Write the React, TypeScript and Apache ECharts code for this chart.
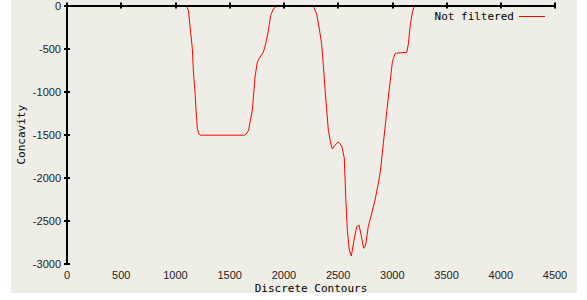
import React, { useEffect, useRef } from "react";
import * as echarts from "echarts";

const seriesName = "Not filtered";
const xTitle = "Discrete Contours";
const yTitle = "Concavity";

const contourX = [
  0, 1100, 1120, 1140, 1156, 1165, 1180, 1190, 1202, 1215, 1230, 1640, 1660, 1675, 1694, 1709,
  1734, 1755, 1780, 1811, 1832, 1857, 1878, 1903, 1934, 1950, 2250, 2275, 2302, 2324, 2348,
  2364, 2379, 2395, 2410, 2432, 2447, 2471, 2502, 2533, 2557, 2570, 2585, 2603, 2622, 2647,
  2671, 2693, 2710, 2735, 2754, 2778, 2810, 2840, 2871, 2890, 2917, 2950, 2979, 3000, 3009,
  3025, 3040, 3133, 3148, 3163, 3185, 3200, 3225, 3300,
];
const concavity = [
  0, 0, -60, -310, -500, -750, -1000, -1215, -1425, -1490, -1505, -1505, -1480, -1445, -1310, -1215,
  -830, -656, -598, -541, -444, -290, -116, -39, -10, 0, 0, -20, -97, -251, -444,
  -695, -965, -1216, -1448, -1602, -1665, -1622, -1583, -1630, -1770, -2220, -2606, -2838, -2907, -2722,
  -2567, -2548, -2650, -2818, -2780, -2567, -2413, -2260, -2065, -1920, -1600, -1216, -890, -660, -618,
  -560, -552, -545, -444, -251, -77, -20, 0, 0,
];

const X_MIN = 0;
const X_MAX = 4500;
const Y_MIN = -3000;
const Y_MAX = 0;
const STEP = 500;

export default function App() {
  const ref = useRef<HTMLDivElement>(null);
  useEffect(() => {
    if (!ref.current) return;
    const chart = echarts.init(ref.current, undefined, { renderer: "svg" });
    const data = contourX.map((x, i) => [x, concavity[i]]);
    const axisLine = { show: true, lineStyle: { color: "#000", width: 2 } };
    const tick = { show: true, inside: true, length: 3, lineStyle: { color: "#000", width: 2 } };
    const labelFont = { fontFamily: "Liberation Sans", fontSize: 11, color: "#222" };
    const monoFont = { fontFamily: "DejaVu Sans Mono", fontSize: 11, color: "#000", fontWeight: "normal" };
    const fmt = (v: number) => String(v);
    chart.setOption({
      animation: false,
      backgroundColor: "#ffffff",
      graphic: [
        {
          type: "rect",
          z: -10,
          silent: true,
          shape: { x: 11, y: 0, width: 566, height: 293 },
          style: { fill: "#eeede6" },
        },
      ],
      grid: { left: 67, top: 5, right: 32, bottom: 36, containLabel: false },
      legend: {
        show: true,
        data: [seriesName],
        right: 37,
        top: 6,
        align: "right",
        icon: "rect",
        itemWidth: 26,
        itemHeight: 1,
        itemGap: 5,
        textStyle: monoFont,
        selectedMode: false,
      },
      xAxis: [
        {
          type: "value",
          min: X_MIN,
          max: X_MAX,
          interval: STEP,
          z: 5,
          axisLine,
          axisTick: tick,
          splitLine: { show: false },
          axisLabel: { ...labelFont, margin: 5, formatter: fmt },
          name: xTitle,
          nameLocation: "middle",
          nameGap: 19,
          nameMoveOverlap: false,
          nameTextStyle: monoFont,
        },
        {
          type: "value",
          position: "top",
          min: X_MIN,
          max: X_MAX,
          interval: STEP,
          z: 5,
          axisLine,
          axisTick: tick,
          splitLine: { show: false },
          axisLabel: { show: false },
        },
      ],
      yAxis: [
        {
          type: "value",
          min: Y_MIN,
          max: Y_MAX,
          interval: STEP,
          z: 5,
          axisLine,
          axisTick: tick,
          splitLine: { show: false },
          axisLabel: { ...labelFont, margin: 6, formatter: fmt },
          name: yTitle,
          nameLocation: "middle",
          nameGap: 40,
          nameMoveOverlap: false,
          nameRotate: 90,
          nameTextStyle: monoFont,
        },
        {
          type: "value",
          position: "right",
          min: Y_MIN,
          max: Y_MAX,
          interval: STEP,
          z: 5,
          axisLine,
          axisTick: tick,
          splitLine: { show: false },
          axisLabel: { show: false },
        },
      ],
      series: [
        {
          name: seriesName,
          type: "line",
          data,
          xAxisIndex: 0,
          yAxisIndex: 0,
          showSymbol: false,
          symbol: "none",
          z: 2,
          color: "#ff0000",
          lineStyle: { color: "#ff0000", width: 1 },
        },
      ],
    });
    return () => chart.dispose();
  }, []);
  return (
    <div style={{ position: "fixed", left: 0, top: 0, width: 587, height: 300, background: "#fff" }}>
      <div ref={ref} style={{ width: 587, height: 300 }} />
    </div>
  );
}
